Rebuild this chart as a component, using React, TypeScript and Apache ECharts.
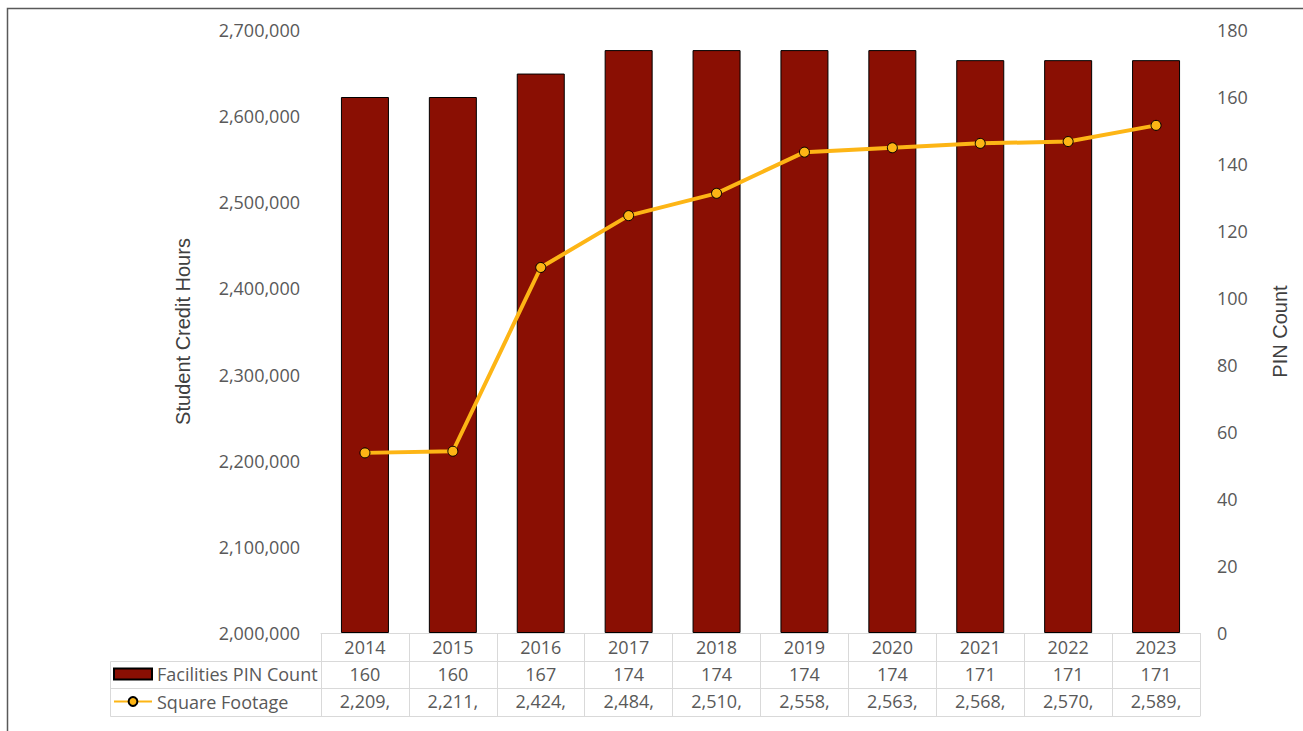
import React, { useEffect, useRef } from "react";
import * as echarts from "echarts";

const years = ["2014", "2015", "2016", "2017", "2018", "2019", "2020", "2021", "2022", "2023"];
const pinCount = [160, 160, 167, 174, 174, 174, 174, 171, 171, 171];
const squareFootage = [2209100, 2211000, 2424300, 2484500, 2510400, 2558200, 2563300, 2568400, 2570500, 2589300];
const leftTicks = { min: 2000000, max: 2700000, interval: 100000 };
const rightTicks = { min: 0, max: 180, interval: 20 };

const fmt = (v: number) => v.toLocaleString("en-US");
const truncated = (v: number) => fmt(v).slice(0, 6);

const FONT = "'Open Sans', sans-serif";
const GRAY = "#595959";
const GRID_LINE = "#d9d9d9";
const BAR = "#8A0F03";
const GOLD = "#FDB515";

export default function App() {
  const ref = useRef<HTMLDivElement>(null);
  useEffect(() => {
    if (!ref.current) return;
    const chart = echarts.init(ref.current, null, { renderer: "svg" });
    const labelStyle = { fontFamily: FONT, fontSize: 18, color: GRAY };
    const nameStyle = { fontFamily: "'Liberation Sans', Arial, sans-serif", fontSize: 20, color: "#404040" };
    const baseX = {
      type: "category" as const,
      data: years,
      position: "bottom" as const,
      gridIndex: 0,
      axisLine: { show: true, lineStyle: { color: GRID_LINE, width: 1 } },
      axisTick: { show: false },
      splitLine: { show: false },
    };
    chart.setOption({
      animation: false,
      backgroundColor: "#ffffff",
      grid: { left: 321, right: 103, top: 30, bottom: 98, containLabel: false },
      legend: {
        orient: "vertical",
        left: 113,
        top: 664,
        padding: 0,
        itemWidth: 38,
        itemHeight: 11,
        itemGap: 7.5,
        textStyle: { ...labelStyle, lineHeight: 20 },
        data: [
          { name: "Facilities PIN Count", icon: "rect" },
          { name: "Square Footage" },
        ],
      },
      xAxis: [
        {
          ...baseX,
          axisTick: { show: true, length: 83, lineStyle: { color: GRID_LINE, width: 1 } },
          axisLabel: { ...labelStyle, margin: 5 },
        },
        {
          ...baseX,
          offset: 28,
          axisLabel: { ...labelStyle, margin: 4, formatter: (_v: string, i: number) => String(pinCount[i]) },
        },
        {
          ...baseX,
          offset: 55,
          axisLabel: { ...labelStyle, margin: 4, formatter: (_v: string, i: number) => truncated(squareFootage[i]) },
        },
        {
          ...baseX,
          offset: 83,
          axisLabel: { show: false },
        },
      ],
      yAxis: [
        {
          type: "value",
          position: "left",
          min: leftTicks.min,
          max: leftTicks.max,
          interval: leftTicks.interval,
          axisLine: { show: false },
          axisTick: { show: false },
          splitLine: { show: false },
          axisLabel: { ...labelStyle, margin: 21, formatter: (v: number) => fmt(v) },
          name: "Student Credit Hours",
          nameLocation: "middle",
          nameGap: 128,
          nameTextStyle: nameStyle,
        },
        {
          type: "value",
          position: "right",
          min: rightTicks.min,
          max: rightTicks.max,
          interval: rightTicks.interval,
          axisLine: { show: false },
          axisTick: { show: false },
          splitLine: { show: false },
          axisLabel: { ...labelStyle, margin: 17 },
          name: "PIN Count",
          nameLocation: "middle",
          nameGap: 70,
          nameTextStyle: nameStyle,
        },
      ],
      graphic: [
        {
          type: "rect",
          silent: true,
          shape: { x: 7.5, y: 8.5, width: 1320, height: 760 },
          style: { fill: "none", stroke: "#595959", lineWidth: 1.5 },
        },
        { type: "line", silent: true, shape: { x1: 110.5, y1: 661.5, x2: 321, y2: 661.5 }, style: { stroke: GRID_LINE, lineWidth: 1 } },
        { type: "line", silent: true, shape: { x1: 110.5, y1: 688.5, x2: 321, y2: 688.5 }, style: { stroke: GRID_LINE, lineWidth: 1 } },
        { type: "line", silent: true, shape: { x1: 110.5, y1: 716.5, x2: 321, y2: 716.5 }, style: { stroke: GRID_LINE, lineWidth: 1 } },
        { type: "line", silent: true, shape: { x1: 110.5, y1: 661.5, x2: 110.5, y2: 716.5 }, style: { stroke: GRID_LINE, lineWidth: 1 } },
      ],
      series: [
        {
          name: "Facilities PIN Count",
          type: "bar",
          xAxisIndex: 0,
          yAxisIndex: 1,
          data: pinCount,
          barWidth: 48,
          itemStyle: { color: BAR, borderColor: "#000000", borderWidth: 1 },
        },
        {
          name: "Square Footage",
          type: "line",
          xAxisIndex: 0,
          yAxisIndex: 0,
          data: squareFootage,
          symbol: "circle",
          symbolSize: 10,
          lineStyle: { color: GOLD, width: 4 },
          itemStyle: { color: GOLD, borderColor: "#000000", borderWidth: 1 },
        },
      ],
    });
    return () => chart.dispose();
  }, []);
  return (
    <div
      ref={ref}
      style={{ position: "absolute", left: 0, top: 0, width: 1303, height: 731 }}
    />
  );
}
